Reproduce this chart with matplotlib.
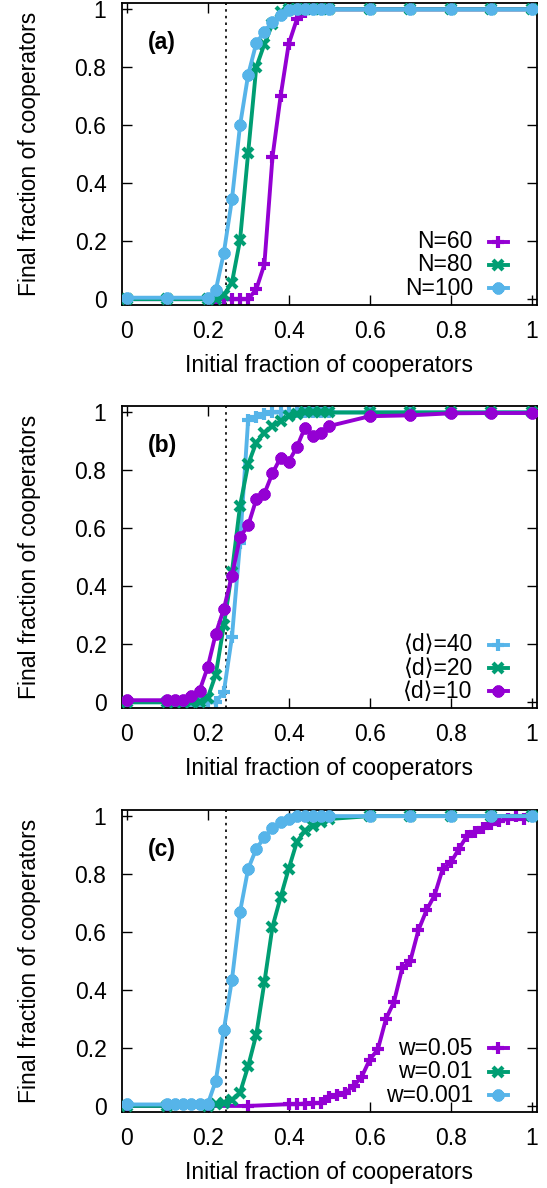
import numpy as np
import matplotlib
matplotlib.use("Agg")
import matplotlib.pyplot as plt

plt.rcParams['font.family'] = ['Liberation Sans', 'DejaVu Sans']

# ---- data ----
# (a) network size N
x_a = [0, 0.1, 0.2, 0.22, 0.24, 0.26, 0.28, 0.30, 0.32, 0.34, 0.36, 0.38,
       0.40, 0.42, 0.44, 0.46, 0.48, 0.50, 0.6, 0.7, 0.8, 0.9, 1.0]
y_N60 = [0, 0, 0, 0, 0, 0, 0, 0, 0.034, 0.12, 0.49, 0.70,
         0.88, 0.965, 0.99, 1, 1, 1, 1, 1, 1, 1, 1]
y_N80 = [0, 0, 0, 0, 0.015, 0.057, 0.204, 0.505, 0.80, 0.88, 0.95, 0.99,
         1, 1, 1, 1, 1, 1, 1, 1, 1, 1, 1]
y_N100 = [0.005, 0.005, 0.005, 0.03, 0.16, 0.344, 0.60, 0.774, 0.883, 0.923, 0.957, 0.98,
          0.998, 1, 1, 1, 1, 1, 1, 1, 1, 1, 1]

# (b) mean degree <d>
x_b = [0, 0.1, 0.12, 0.14, 0.16, 0.18, 0.2, 0.22, 0.24, 0.26, 0.28, 0.30, 0.32,
       0.34, 0.36, 0.38, 0.40, 0.42, 0.44, 0.46, 0.48, 0.50, 0.6, 0.7, 0.8, 0.9, 1.0]
y_d40 = [0, 0, 0, 0, 0, 0, 0, 0, 0.036, 0.225, 0.55, 0.975, 0.985,
         0.995, 1, 1, 1, 1, 1, 1, 1, 1, 1, 1, 1, 1, 1]
y_d20 = [0, 0, 0, 0, 0, 0, 0.015, 0.095, 0.265, 0.45, 0.678, 0.821, 0.896,
         0.93, 0.953, 0.97, 0.987, 0.995, 1, 1, 1, 1, 1, 1, 1, 1, 1]
y_d10 = [0.007, 0.007, 0.007, 0.007, 0.02, 0.04, 0.12, 0.236, 0.322, 0.437, 0.57, 0.61, 0.70,
         0.72, 0.79, 0.844, 0.83, 0.88, 0.947, 0.918, 0.93, 0.953, 0.987, 0.99, 0.997, 0.998, 0.998]

# (c) selection strength w
x_w005 = [0, 0.1, 0.2, 0.3, 0.40, 0.42, 0.44, 0.46, 0.48, 0.50, 0.52, 0.54, 0.56, 0.58,
          0.60, 0.62, 0.64, 0.66, 0.68, 0.70, 0.72, 0.74, 0.76, 0.78, 0.80, 0.82,
          0.84, 0.86, 0.88, 0.90, 0.92, 0.94, 0.96, 0.98, 1.0]
y_w005 = [0, 0, 0, 0, 0.006, 0.006, 0.008, 0.009, 0.011, 0.03, 0.037, 0.046, 0.069, 0.10,
          0.16, 0.195, 0.30, 0.36, 0.475, 0.50, 0.606, 0.675, 0.727, 0.818, 0.84, 0.887,
          0.932, 0.944, 0.96, 0.973, 0.984, 0.99, 1.0, 0.99, 1.0]
x_w001 = [0, 0.1, 0.2, 0.22, 0.24, 0.26, 0.28, 0.30, 0.32, 0.34, 0.36, 0.38,
          0.40, 0.42, 0.44, 0.46, 0.48, 0.50, 0.6, 0.7, 0.8, 0.9, 1.0]
y_w001 = [0, 0, 0, 0.005, 0.01, 0.02, 0.046, 0.137, 0.246, 0.426, 0.618, 0.72,
          0.818, 0.91, 0.95, 0.967, 0.978, 0.99, 1, 1, 1, 1, 1]
x_w0001 = [0, 0.1, 0.12, 0.14, 0.16, 0.18, 0.2, 0.22, 0.24, 0.26, 0.28, 0.30, 0.32,
           0.34, 0.36, 0.38, 0.40, 0.42, 0.44, 0.46, 0.48, 0.50, 0.6, 0.7, 0.8, 0.9, 1.0]
y_w0001 = [0.005, 0.005, 0.005, 0.005, 0.005, 0.005, 0.005, 0.086, 0.263, 0.435, 0.67, 0.818, 0.887,
           0.927, 0.96, 0.978, 0.99, 1, 1, 1, 1, 1, 1, 1, 1, 1, 1]

x_threshold = 0.245
ticks = [0, 0.2, 0.4, 0.6, 0.8, 1]
tick_labels = ['0', '0.2', '0.4', '0.6', '0.8', '1']

PURPLE, GREEN, BLUE = '#9400D3', '#009E73', '#56B4E9'
PLUS, CROSS, STAR = '+', 'x', (8, 2, 0)
FS = 16.5
LW = 2.8
MS = {PLUS: 8, CROSS: 7.5, STAR: 8.5}

panels = [
    ("(a)", [("N=60", x_a, y_N60, PURPLE, PLUS),
             ("N=80", x_a, y_N80, GREEN, CROSS),
             ("N=100", x_a, y_N100, BLUE, STAR)]),
    ("(b)", [("⟨d⟩=40", x_b, y_d40, BLUE, PLUS),
             ("⟨d⟩=20", x_b, y_d20, GREEN, CROSS),
             ("⟨d⟩=10", x_b, y_d10, PURPLE, STAR)]),
    ("(c)", [("w=0.05", x_w005, y_w005, PURPLE, PLUS),
             ("w=0.01", x_w001, y_w001, GREEN, CROSS),
             ("w=0.001", x_w0001, y_w0001, BLUE, STAR)]),
]

fig = plt.figure(figsize=(5.47, 11.88), dpi=100)
bottoms = [0.7433, 0.4040, 0.0642]

for (tag, series), b in zip(panels, bottoms):
    ax = fig.add_axes([0.2225, b, 0.7587, 0.2542])
    ax.axvline(x_threshold, color='black', lw=1.2, ls=(0, (1.5, 2.5)), zorder=1)
    for i, (label, xs, ys, col, mk) in enumerate(series):
        ax.plot(xs, ys, color=col, lw=LW, marker=mk, ms=MS[mk], mew=3, zorder=2 + i)
        # gnuplot-style key: right-aligned text, sample to the right
        yk = 0.21 - 0.0775 * i
        ax.text(0.846, yk, label, transform=ax.transAxes, ha='right', va='center', fontsize=FS)
        ax.plot([0.884, 0.93], [yk, yk], transform=ax.transAxes, color=col, lw=LW, clip_on=False)
        ax.plot([0.907], [yk], transform=ax.transAxes, color=col, marker=mk, ms=MS[mk], mew=3,
                clip_on=False)
    ax.text(0.062, 0.868, tag, transform=ax.transAxes, ha='left', va='center',
            fontsize=FS, fontweight='bold')
    ax.set_xlim(-0.012, 1.012)
    ax.set_ylim(-0.02, 1.022)
    ax.set_xticks(ticks, tick_labels)
    ax.set_yticks(ticks, tick_labels)
    ax.tick_params(direction='in', top=True, right=True, length=7, width=1,
                   labelsize=FS, pad=11)
    for s in ax.spines.values():
        s.set_linewidth(1.3)
    ax.set_xlabel("Initial fraction of cooperators", fontsize=FS, labelpad=8)
    ax.set_ylabel("Final fraction of cooperators", fontsize=FS, labelpad=24)

fig.savefig("out.png", dpi=100)
